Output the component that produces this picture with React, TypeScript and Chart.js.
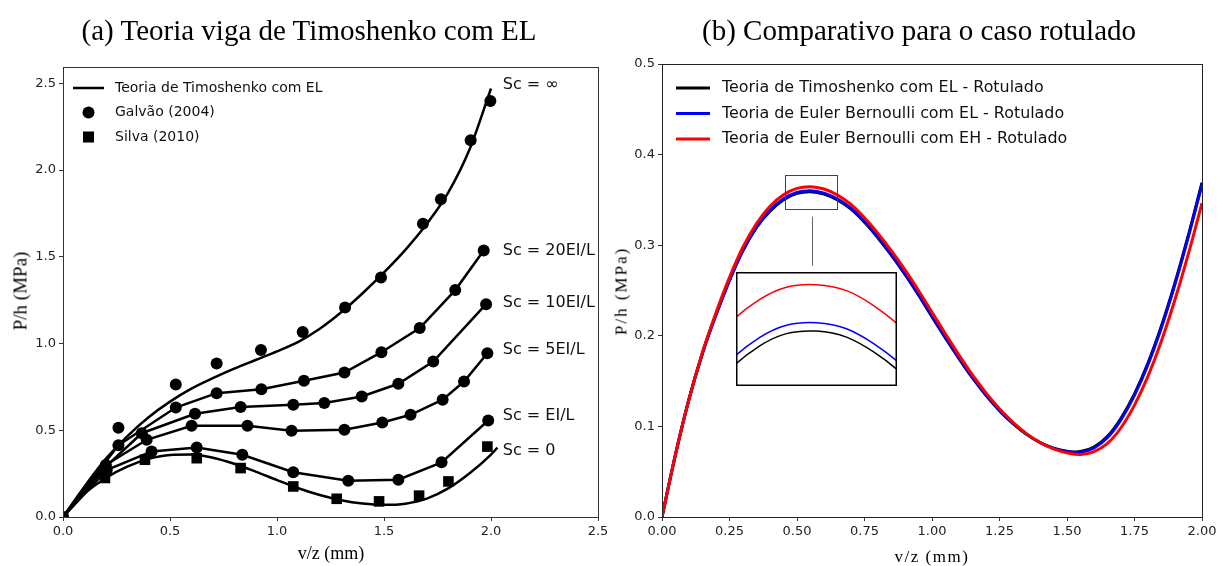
import React, { useEffect, useRef } from "react";
import { Chart, registerables } from "chart.js";

Chart.register(...registerables);

// ---------------- (a) Teoria viga de Timoshenko com EL ----------------
const infLineX = [0, 0.1, 0.2, 0.3, 0.4, 0.5, 0.6, 0.7, 0.8, 0.9, 1.0, 1.1, 1.2, 1.3, 1.4, 1.5, 1.6, 1.7, 1.8, 1.9, 2.0];
const infLineY = [0, 0.175, 0.335, 0.465, 0.575, 0.665, 0.74, 0.8, 0.855, 0.905, 0.955, 1.01, 1.085, 1.18, 1.29, 1.41, 1.54, 1.69, 1.87, 2.12, 2.47];

const zeroLineX = [0, 0.05, 0.1, 0.2, 0.3, 0.4, 0.5, 0.6, 0.7, 0.8, 0.9, 1.0, 1.1, 1.2, 1.3, 1.4, 1.5, 1.6, 1.7, 1.8, 1.9, 2.0, 2.03];
const zeroLineY = [0, 0.075, 0.135, 0.225, 0.29, 0.335, 0.358, 0.36, 0.342, 0.307, 0.262, 0.213, 0.166, 0.127, 0.097, 0.078, 0.07, 0.077, 0.106, 0.165, 0.252, 0.36, 0.4];

const sc20X = [0, 0.259, 0.527, 0.718, 0.927, 1.126, 1.315, 1.488, 1.667, 1.833, 1.966];
const sc20Y = [0, 0.414, 0.631, 0.714, 0.737, 0.785, 0.833, 0.95, 1.089, 1.308, 1.536];

const sc10X = [0, 0.2, 0.368, 0.617, 0.83, 1.076, 1.221, 1.396, 1.567, 1.73, 1.977];
const sc10Y = [0, 0.29, 0.483, 0.595, 0.634, 0.647, 0.657, 0.695, 0.768, 0.896, 1.227];

const sc5X = [0, 0.2, 0.391, 0.601, 0.862, 1.068, 1.315, 1.492, 1.624, 1.774, 1.874, 1.983];
const sc5Y = [0, 0.3, 0.445, 0.526, 0.526, 0.497, 0.503, 0.545, 0.589, 0.676, 0.781, 0.944];

const sc1X = [0, 0.204, 0.414, 0.625, 0.838, 1.076, 1.333, 1.567, 1.769, 1.987];
const sc1Y = [0, 0.27, 0.378, 0.401, 0.359, 0.258, 0.209, 0.215, 0.315, 0.556];

const galvaoInfX = [0, 0.259, 0.527, 0.718, 0.925, 1.12, 1.318, 1.486, 1.682, 1.766, 1.905, 1.997];
const galvaoInfY = [0, 0.514, 0.764, 0.885, 0.962, 1.067, 1.208, 1.381, 1.69, 1.832, 2.172, 2.398];

const silvaX = [0, 0.196, 0.383, 0.625, 0.83, 1.076, 1.279, 1.477, 1.664, 1.801, 1.983];
const silvaY = [0, 0.225, 0.33, 0.339, 0.282, 0.176, 0.105, 0.09, 0.123, 0.205, 0.406];

const scLabels = ["Sc = ∞", "Sc = 20EI/L", "Sc = 10EI/L", "Sc = 5EI/L", "Sc = EI/L", "Sc = 0"];
const scLabelY = [2.49, 1.534, 1.234, 0.962, 0.584, 0.382];
const scLabelX = 2.055;

const legendA = ["Teoria de Timoshenko com EL", "Galvão (2004)", "Silva (2010)"];

// ---------------- (b) Comparativo para o caso rotulado ----------------
const rotX = [0, 0.05, 0.1, 0.15, 0.2, 0.25, 0.3, 0.35, 0.4, 0.45, 0.5, 0.55, 0.6, 0.65, 0.7, 0.75, 0.8, 0.85, 0.9, 0.95, 1.0,
  1.05, 1.1, 1.15, 1.2, 1.25, 1.3, 1.35, 1.4, 1.45, 1.5, 1.55, 1.6, 1.65, 1.7, 1.75, 1.8, 1.85, 1.9, 1.95, 2.0];
const timoEL = [0, 0.069, 0.13, 0.1808, 0.2233, 0.2612, 0.2942, 0.3196, 0.3375, 0.3502, 0.3572, 0.359, 0.3565, 0.35, 0.3398,
  0.3253, 0.308, 0.2887, 0.2677, 0.245, 0.221, 0.1975, 0.1748, 0.1535, 0.1343, 0.1174, 0.103, 0.0912, 0.0822, 0.0759, 0.0725,
  0.0722, 0.0772, 0.089, 0.109, 0.136, 0.17, 0.211, 0.2585, 0.3117, 0.369];
const eulerEL = [0, 0.069, 0.13, 0.181, 0.2235, 0.2615, 0.2945, 0.32, 0.3385, 0.3512, 0.3582, 0.36, 0.3575, 0.351, 0.3408,
  0.3263, 0.309, 0.2897, 0.2687, 0.246, 0.222, 0.1985, 0.1757, 0.1543, 0.135, 0.118, 0.1035, 0.0915, 0.0822, 0.0757, 0.072,
  0.0715, 0.0762, 0.0877, 0.1075, 0.1345, 0.1685, 0.2095, 0.257, 0.31, 0.367];
const eulerEH = [0, 0.069, 0.13, 0.182, 0.2255, 0.2645, 0.298, 0.324, 0.343, 0.3557, 0.3627, 0.3645, 0.362, 0.3553, 0.345,
  0.3303, 0.313, 0.2937, 0.2727, 0.25, 0.226, 0.202, 0.1787, 0.1568, 0.137, 0.1195, 0.1045, 0.092, 0.0822, 0.0752, 0.0708,
  0.0689, 0.0722, 0.0812, 0.0985, 0.1235, 0.1555, 0.1945, 0.24, 0.291, 0.3465];
const legendB = [
  "Teoria de Timoshenko com EL - Rotulado",
  "Teoria de Euler Bernoulli com EL - Rotulado",
  "Teoria de Euler Bernoulli com EH - Rotulado",
];
const colorsB = ["#000000", "#0000ff", "#ff0000"];

// zoom indication (data coordinates)
const rectX = [0.455, 0.646];
const rectY = [0.3395, 0.3775];
const connectorX = 0.554;
const connectorY = [0.3315, 0.2774];
const insetX = [0.48, 0.62];
const insetY = [0.3525, 0.366];

const pts = (xs: number[], ys: number[]) => xs.map((x, i) => ({ x, y: ys[i] }));

const TICK_FONT = { family: "'DejaVu Sans', sans-serif", size: 13 };

function axisX(min: number, max: number, step: number, digits: number) {
  return {
    type: "linear" as const,
    min,
    max,
    ticks: {
      stepSize: step,
      includeBounds: false,
      autoSkip: false,
      maxRotation: 0,
      padding: 3,
      color: "#222",
      font: TICK_FONT,
      callback: (v: any) => Number(v).toFixed(digits),
    },
    grid: { drawOnChartArea: false, drawTicks: true, tickLength: 4, color: "#333" },
    border: { display: true, color: "#333" },
    afterFit: (s: any) => {
      s.height = 49;
      s.paddingLeft = 0;
      s.paddingRight = 0;
    },
  };
}
function axisY(min: number, max: number, step: number, digits: number, width: number) {
  return {
    type: "linear" as const,
    min,
    max,
    ticks: {
      stepSize: step,
      includeBounds: false,
      autoSkip: false,
      padding: 3,
      color: "#222",
      font: TICK_FONT,
      callback: (v: any) => Number(v).toFixed(digits),
    },
    grid: { drawOnChartArea: false, drawTicks: true, tickLength: 4, color: "#333" },
    border: { display: true, color: "#333" },
    afterFit: (s: any) => {
      s.width = width;
      s.paddingTop = 0;
      s.paddingBottom = 0;
    },
  };
}

function frame(chart: any, color = "#333", lw = 1) {
  const { ctx, chartArea: a } = chart;
  ctx.save();
  ctx.strokeStyle = color;
  ctx.lineWidth = lw;
  ctx.strokeRect(a.left + 0.5, a.top + 0.5, a.right - a.left, a.bottom - a.top);
  ctx.restore();
}

const decorA = {
  id: "decorA",
  afterDraw(chart: any) {
    frame(chart);
    const { ctx } = chart;
    const xs = chart.scales.x;
    const ys = chart.scales.y;
    ctx.save();
    ctx.font = "14px 'DejaVu Sans', sans-serif";
    ctx.textBaseline = "middle";
    const ly = [88, 112.5, 137];
    ctx.strokeStyle = "#000";
    ctx.lineWidth = 2.5;
    ctx.beginPath();
    ctx.moveTo(73, ly[0]);
    ctx.lineTo(104, ly[0]);
    ctx.stroke();
    ctx.fillStyle = "#000";
    ctx.beginPath();
    ctx.arc(88.5, ly[1], 6, 0, Math.PI * 2);
    ctx.fill();
    ctx.fillRect(83, ly[2] - 5.5, 11, 11);
    ctx.fillStyle = "#111";
    legendA.forEach((t, i) => ctx.fillText(t, 115, ly[i]));
    ctx.font = "16px 'DejaVu Sans', sans-serif";
    scLabels.forEach((t, i) => {
      ctx.fillText(t, xs.getPixelForValue(scLabelX), ys.getPixelForValue(scLabelY[i]));
    });
    ctx.restore();
  },
};

const decorB = {
  id: "decorB",
  afterDraw(chart: any) {
    frame(chart, "#222");
    const { ctx } = chart;
    const xs = chart.scales.x;
    const ys = chart.scales.y;
    ctx.save();
    ctx.strokeStyle = "#444";
    ctx.lineWidth = 1;
    const x0 = xs.getPixelForValue(rectX[0]);
    const x1 = xs.getPixelForValue(rectX[1]);
    const y0 = ys.getPixelForValue(rectY[1]);
    const y1 = ys.getPixelForValue(rectY[0]);
    ctx.strokeRect(Math.round(x0) + 0.5, Math.round(y0) + 0.5, Math.round(x1 - x0), Math.round(y1 - y0));
    ctx.strokeStyle = "#666";
    ctx.beginPath();
    const cx = Math.round(xs.getPixelForValue(connectorX)) + 0.5;
    ctx.moveTo(cx, ys.getPixelForValue(connectorY[0]));
    ctx.lineTo(cx, ys.getPixelForValue(connectorY[1]));
    ctx.stroke();
    ctx.font = "15.9px 'DejaVu Sans', sans-serif";
    ctx.textBaseline = "middle";
    const ly = [88, 113.5, 139];
    legendB.forEach((t, i) => {
      ctx.strokeStyle = colorsB[i];
      ctx.lineWidth = 3;
      ctx.beginPath();
      ctx.moveTo(66, ly[i]);
      ctx.lineTo(100, ly[i]);
      ctx.stroke();
      ctx.fillStyle = "#111";
      ctx.fillText(t, 112, ly[i]);
    });
    ctx.restore();
  },
};

const decorInset = {
  id: "decorInset",
  afterDraw(chart: any) {
    const { ctx, width, height } = chart;
    ctx.save();
    ctx.strokeStyle = "#000";
    ctx.lineWidth = 1.5;
    ctx.strokeRect(0.75, 0.75, width - 1.5, height - 1.5);
    ctx.restore();
  },
};

function lineDs(xs: number[], ys: number[], mode: "monotone" | "bezier" | "straight", color = "#000", width = 2.5, order = 2) {
  return {
    data: pts(xs, ys),
    showLine: true,
    borderColor: color,
    backgroundColor: color,
    borderWidth: width,
    pointRadius: 0,
    fill: false,
    tension: mode === "bezier" ? 0.4 : 0,
    cubicInterpolationMode: mode === "monotone" ? ("monotone" as const) : ("default" as const),
    order,
  };
}

export default function App() {
  const leftRef = useRef<HTMLCanvasElement>(null);
  const rightRef = useRef<HTMLCanvasElement>(null);
  const insetRef = useRef<HTMLCanvasElement>(null);

  useEffect(() => {
    const galvaoPts = [
      ...pts(galvaoInfX, galvaoInfY),
      ...pts(sc20X, sc20Y).slice(1),
      ...pts(sc10X, sc10Y).slice(1),
      ...pts(sc5X, sc5Y).slice(1),
      ...pts(sc1X, sc1Y).slice(1),
    ];
    const left = new Chart(leftRef.current!, {
      type: "scatter",
      data: {
        datasets: [
          {
            data: galvaoPts,
            showLine: false,
            pointStyle: "circle",
            pointRadius: 6,
            pointBackgroundColor: "#000",
            pointBorderColor: "#000",
            pointBorderWidth: 0,
            order: 0,
          } as any,
          {
            data: pts(silvaX, silvaY),
            showLine: false,
            pointStyle: "rect",
            pointRadius: 7.5,
            pointBackgroundColor: "#000",
            pointBorderColor: "#000",
            pointBorderWidth: 0,
            order: 0,
          } as any,
          lineDs(infLineX, infLineY, "monotone") as any,
          lineDs(sc20X, sc20Y, "straight") as any,
          lineDs(sc10X, sc10Y, "straight") as any,
          lineDs(sc5X, sc5Y, "straight") as any,
          lineDs(sc1X, sc1Y, "straight") as any,
          lineDs(zeroLineX, zeroLineY, "monotone") as any,
        ],
      },
      options: {
        responsive: false,
        animation: false,
        devicePixelRatio: 1,
        events: [],
        layout: { padding: { left: 0, top: 67, right: 12, bottom: 0 } },
        plugins: { legend: { display: false }, tooltip: { enabled: false } },
        scales: {
          x: axisX(0, 2.5, 0.5, 1) as any,
          y: axisY(0, 2.594, 0.5, 1, 63) as any,
        },
      },
      plugins: [decorA],
    });

    const bDatasets = (w: number) => [
      lineDs(rotX, eulerEH, "bezier", colorsB[2], w, 0) as any,
      lineDs(rotX, eulerEL, "bezier", colorsB[1], w, 1) as any,
      lineDs(rotX, timoEL, "bezier", colorsB[0], w, 2) as any,
    ];

    const right = new Chart(rightRef.current!, {
      type: "scatter",
      data: { datasets: bDatasets(3) },
      options: {
        responsive: false,
        animation: false,
        devicePixelRatio: 1,
        events: [],
        layout: { padding: { left: 0, top: 64, right: 17, bottom: 0 } },
        plugins: { legend: { display: false }, tooltip: { enabled: false } },
        scales: {
          x: axisX(0, 2.0, 0.25, 2) as any,
          y: axisY(0, 0.5, 0.1, 1, 52) as any,
        },
      },
      plugins: [decorB],
    });

    const inset = new Chart(insetRef.current!, {
      type: "scatter",
      data: { datasets: bDatasets(1.5) },
      options: {
        responsive: false,
        animation: false,
        devicePixelRatio: 1,
        events: [],
        layout: { padding: 0 },
        plugins: { legend: { display: false }, tooltip: { enabled: false } },
        scales: {
          x: { type: "linear", display: false, min: insetX[0], max: insetX[1] },
          y: { type: "linear", display: false, min: insetY[0], max: insetY[1] },
        },
      },
      plugins: [decorInset],
    });

    return () => {
      left.destroy();
      right.destroy();
      inset.destroy();
    };
  }, []);

  const serif = "'Liberation Serif', 'Times New Roman', serif";
  const centered = (x: number, y: number, size: number, extra: any = {}) => ({
    position: "absolute" as const,
    left: x,
    top: y,
    transform: "translate(-50%, -50%)",
    fontFamily: serif,
    fontSize: size,
    lineHeight: 1,
    whiteSpace: "nowrap" as const,
    color: "#000",
    ...extra,
  });

  return (
    <div style={{ position: "absolute", left: 0, top: 0, width: 1219, height: 566, background: "#fff", overflow: "hidden" }}>
      <canvas ref={leftRef} width={610} height={566} style={{ position: "absolute", left: 0, top: 0 }} />
      <canvas ref={rightRef} width={609} height={566} style={{ position: "absolute", left: 610, top: 0 }} />
      <canvas ref={insetRef} width={161} height={114} style={{ position: "absolute", left: 736, top: 272, background: "#fff" }} />
      <div style={centered(309, 30, 29)}>(a) Teoria viga de Timoshenko com EL</div>
      <div style={centered(919, 30, 29)}>(b) Comparativo para o caso rotulado</div>
      <div style={centered(331, 553, 18)}>v/z (mm)</div>
      <div style={centered(932, 556, 17, { letterSpacing: "1.5px" })}>v/z (mm)</div>
      <div style={centered(20, 291, 19, { transform: "translate(-50%, -50%) rotate(-90deg)" })}>P/h (MPa)</div>
      <div style={centered(621, 291, 17, { transform: "translate(-50%, -50%) rotate(-90deg)", letterSpacing: "2px" })}>P/h (MPa)</div>
    </div>
  );
}
